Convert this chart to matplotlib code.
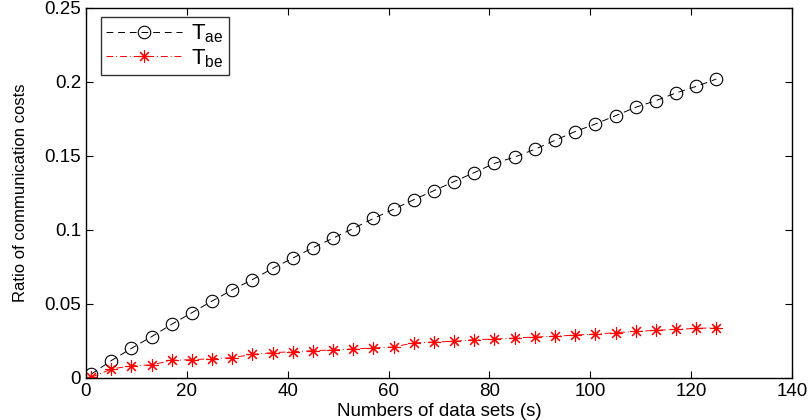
import numpy as np
import matplotlib
matplotlib.use('Agg')
import matplotlib.pyplot as plt

# data
sets = [1, 5, 9, 13, 17, 21, 25, 29, 33, 37, 41, 45, 49, 53, 57, 61,
        65, 69, 73, 77, 81, 85, 89, 93, 97, 101, 105, 109, 113, 117, 121, 125]
t_ae = [0.0025, 0.0117, 0.0200, 0.0279, 0.0363, 0.0441, 0.0520, 0.0595,
        0.0665, 0.0740, 0.0810, 0.0880, 0.0945, 0.1010, 0.1078, 0.1140,
        0.1205, 0.1266, 0.1327, 0.1388, 0.1450, 0.1493, 0.1545, 0.1606,
        0.1665, 0.1716, 0.1772, 0.1829, 0.1874, 0.1926, 0.1970, 0.2020]
t_be = [0.0004, 0.0060, 0.0083, 0.0088, 0.0119, 0.0124, 0.0130, 0.0137,
        0.0160, 0.0171, 0.0178, 0.0184, 0.0190, 0.0196, 0.0203, 0.0210,
        0.0237, 0.0243, 0.0248, 0.0259, 0.0263, 0.0270, 0.0277, 0.0282,
        0.0290, 0.0297, 0.0306, 0.0315, 0.0322, 0.0329, 0.0335, 0.0340]

xticks = [0, 20, 40, 60, 80, 100, 120, 140]
yticks = [0, 0.05, 0.1, 0.15, 0.2, 0.25]
yticklabels = ['0', '0.05', '0.1', '0.15', '0.2', '0.25']

plt.rcParams['font.family'] = ['Liberation Sans', 'DejaVu Sans']

fig = plt.figure(figsize=(8.11, 4.2), dpi=100)
ax = fig.add_axes([0.106, 0.1, 0.8706, 0.881])

ax.plot(sets, t_ae, linestyle=(0, (7, 5)), color='black', linewidth=0.7,
        marker='o', markersize=9, markerfacecolor='none',
        markeredgecolor='black', markeredgewidth=0.8, label='T$_{\\mathregular{ae}}$')
ax.plot(sets, t_be, linestyle=(0, (7, 3, 1, 3)), color='red', linewidth=0.7,
        marker=(8, 2, 0), markersize=9, markerfacecolor='red',
        markeredgecolor='red', markeredgewidth=0.8, label='T$_{\\mathregular{be}}$')

ax.set_xlim(0, 140)
ax.set_ylim(0, 0.25)
ax.set_xticks(xticks)
ax.set_yticks(yticks)
ax.set_yticklabels(yticklabels)
ax.tick_params(direction='in', top=True, right=True, labelsize=13.5, length=5, width=0.8)
for s in ax.spines.values():
    s.set_linewidth(1.0)

ax.set_xlabel('Numbers of data sets (s)', fontsize=13.5, labelpad=2)
ax.set_ylabel('Ratio of communication costs', fontsize=12,
              family=['Liberation Sans Narrow', 'Liberation Sans'], labelpad=12)

leg = ax.legend(loc='upper left', fontsize=16, frameon=True, fancybox=False,
                edgecolor='black', borderpad=0.25, handlelength=3.4,
                labelspacing=0.1, handletextpad=0.4, borderaxespad=0,
                bbox_to_anchor=(0.021, 0.976))
leg.get_frame().set_linewidth(1.0)

fig.savefig('out.png', dpi=100)
